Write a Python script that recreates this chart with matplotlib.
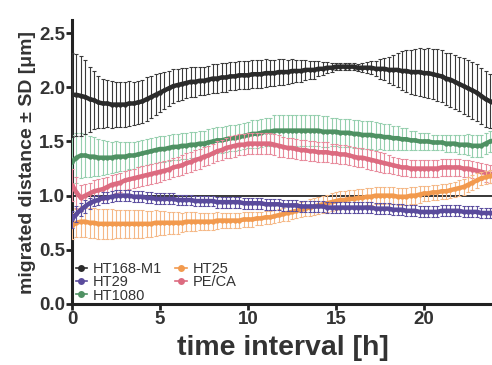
import numpy as np
import matplotlib
matplotlib.use("Agg")
import matplotlib.pyplot as plt
from matplotlib.lines import Line2D

plt.rcParams['font.family'] = ['Liberation Sans', 'DejaVu Sans']

# time points (h), every 15 min
time_h = np.arange(0, 24.01, 0.25)

series_names = ["HT168-M1", "HT29", "HT1080", "HT25", "PE/CA"]

ht168_mean = [
    1.93, 1.93, 1.92, 1.91, 1.89, 1.88, 1.86, 1.85, 1.85, 1.84, 1.84, 1.84,
    1.84, 1.85, 1.85, 1.86, 1.87, 1.89, 1.91, 1.93, 1.95, 1.97, 1.99, 2.01,
    2.02, 2.03, 2.04, 2.05, 2.05, 2.06, 2.06, 2.07, 2.08, 2.08, 2.09, 2.09,
    2.10, 2.10, 2.11, 2.11, 2.11, 2.12, 2.12, 2.12, 2.13, 2.13, 2.13, 2.14,
    2.14, 2.14, 2.15, 2.15, 2.15, 2.16, 2.16, 2.16, 2.17, 2.17, 2.18, 2.18,
    2.19, 2.19, 2.19, 2.19, 2.19, 2.18, 2.18, 2.18, 2.18, 2.17, 2.17, 2.17,
    2.16, 2.16, 2.16, 2.15, 2.15, 2.14, 2.14, 2.14, 2.13, 2.13, 2.12, 2.11,
    2.10, 2.08, 2.07, 2.05, 2.03, 2.01, 1.99, 1.97, 1.95, 1.92, 1.89, 1.87,
    1.85]
ht168_sd = [
    0.39, 0.38, 0.37, 0.34, 0.30, 0.27, 0.24, 0.23, 0.22, 0.22, 0.21, 0.21,
    0.21, 0.21, 0.20, 0.20, 0.20, 0.20, 0.19, 0.19, 0.18, 0.17, 0.16, 0.16,
    0.15, 0.15, 0.14, 0.14, 0.14, 0.13, 0.13, 0.13, 0.13, 0.13, 0.13, 0.13,
    0.13, 0.13, 0.13, 0.13, 0.13, 0.13, 0.13, 0.13, 0.13, 0.12, 0.12, 0.12,
    0.12, 0.11, 0.11, 0.10, 0.10, 0.09, 0.08, 0.08, 0.07, 0.06, 0.05, 0.04,
    0.03, 0.03, 0.03, 0.03, 0.03, 0.03, 0.04, 0.05, 0.06, 0.07, 0.09, 0.10,
    0.12, 0.14, 0.16, 0.18, 0.19, 0.20, 0.21, 0.22, 0.22, 0.23, 0.23, 0.24,
    0.24, 0.24, 0.25, 0.25, 0.25, 0.26, 0.26, 0.26, 0.26, 0.26, 0.26, 0.25,
    0.25]

ht29_mean = [
    0.78, 0.83, 0.87, 0.90, 0.93, 0.95, 0.96, 0.98, 0.98, 0.99, 1.00, 1.00,
    1.00, 1.00, 0.99, 0.99, 0.99, 0.98, 0.98, 0.97, 0.97, 0.97, 0.97, 0.97,
    0.96, 0.96, 0.96, 0.96, 0.95, 0.95, 0.95, 0.95, 0.95, 0.94, 0.94, 0.94,
    0.94, 0.94, 0.94, 0.93, 0.93, 0.93, 0.93, 0.93, 0.92, 0.92, 0.92, 0.92,
    0.91, 0.91, 0.91, 0.91, 0.90, 0.90, 0.90, 0.90, 0.90, 0.90, 0.89, 0.89,
    0.89, 0.89, 0.89, 0.89, 0.89, 0.89, 0.89, 0.89, 0.89, 0.88, 0.88, 0.88,
    0.88, 0.87, 0.87, 0.87, 0.86, 0.86, 0.86, 0.85, 0.85, 0.85, 0.85, 0.85,
    0.86, 0.86, 0.86, 0.86, 0.86, 0.85, 0.85, 0.85, 0.85, 0.84, 0.84, 0.84,
    0.84]
ht29_sd = [
    0.08, 0.07, 0.06, 0.06, 0.05, 0.05, 0.05, 0.05, 0.05, 0.05, 0.05, 0.05,
    0.05, 0.05, 0.05, 0.05, 0.05, 0.05, 0.05, 0.05, 0.05, 0.05, 0.05, 0.05,
    0.05, 0.05, 0.05, 0.05, 0.05, 0.05, 0.05, 0.05, 0.05, 0.05, 0.05, 0.05,
    0.05, 0.05, 0.05, 0.05, 0.05, 0.05, 0.05, 0.05, 0.05, 0.05, 0.05, 0.05,
    0.05, 0.05, 0.05, 0.05, 0.05, 0.05, 0.05, 0.05, 0.05, 0.05, 0.05, 0.05,
    0.05, 0.05, 0.05, 0.05, 0.05, 0.05, 0.05, 0.05, 0.05, 0.05, 0.05, 0.05,
    0.05, 0.05, 0.05, 0.05, 0.05, 0.05, 0.05, 0.05, 0.05, 0.05, 0.05, 0.05,
    0.05, 0.05, 0.05, 0.05, 0.05, 0.05, 0.05, 0.05, 0.05, 0.05, 0.05, 0.05,
    0.05]

ht1080_mean = [
    1.31, 1.35, 1.37, 1.37, 1.36, 1.36, 1.35, 1.35, 1.35, 1.35, 1.36, 1.36,
    1.36, 1.37, 1.37, 1.38, 1.39, 1.40, 1.41, 1.42, 1.43, 1.43, 1.44, 1.45,
    1.45, 1.46, 1.46, 1.47, 1.47, 1.48, 1.48, 1.49, 1.50, 1.51, 1.51, 1.52,
    1.53, 1.53, 1.54, 1.55, 1.56, 1.57, 1.57, 1.58, 1.59, 1.59, 1.60, 1.60,
    1.60, 1.60, 1.60, 1.60, 1.60, 1.60, 1.60, 1.60, 1.60, 1.59, 1.59, 1.59,
    1.59, 1.58, 1.58, 1.58, 1.57, 1.57, 1.56, 1.56, 1.56, 1.55, 1.55, 1.54,
    1.54, 1.53, 1.53, 1.52, 1.52, 1.51, 1.51, 1.50, 1.50, 1.50, 1.49, 1.49,
    1.49, 1.48, 1.48, 1.48, 1.47, 1.47, 1.47, 1.46, 1.46, 1.46, 1.48, 1.50,
    1.51]
ht1080_sd = [
    0.25, 0.23, 0.21, 0.20, 0.19, 0.18, 0.17, 0.16, 0.15, 0.14, 0.14, 0.13,
    0.13, 0.12, 0.12, 0.12, 0.12, 0.12, 0.12, 0.12, 0.12, 0.12, 0.12, 0.12,
    0.12, 0.12, 0.12, 0.12, 0.12, 0.12, 0.12, 0.12, 0.12, 0.12, 0.12, 0.12,
    0.12, 0.12, 0.12, 0.12, 0.12, 0.13, 0.13, 0.13, 0.13, 0.13, 0.14, 0.14,
    0.14, 0.14, 0.14, 0.14, 0.14, 0.14, 0.14, 0.14, 0.14, 0.14, 0.14, 0.13,
    0.13, 0.13, 0.13, 0.13, 0.13, 0.13, 0.13, 0.13, 0.13, 0.13, 0.12, 0.12,
    0.12, 0.11, 0.11, 0.10, 0.10, 0.09, 0.09, 0.08, 0.08, 0.08, 0.07, 0.07,
    0.07, 0.08, 0.08, 0.08, 0.09, 0.09, 0.10, 0.10, 0.10, 0.10, 0.10, 0.10,
    0.10]

ht25_mean = [
    0.72, 0.75, 0.76, 0.76, 0.75, 0.75, 0.74, 0.74, 0.74, 0.74, 0.74, 0.74,
    0.74, 0.74, 0.74, 0.74, 0.74, 0.74, 0.74, 0.75, 0.75, 0.75, 0.75, 0.75,
    0.75, 0.75, 0.76, 0.76, 0.76, 0.76, 0.76, 0.76, 0.76, 0.77, 0.77, 0.77,
    0.77, 0.77, 0.77, 0.78, 0.78, 0.78, 0.79, 0.79, 0.80, 0.80, 0.81, 0.82,
    0.83, 0.84, 0.85, 0.86, 0.87, 0.88, 0.89, 0.90, 0.91, 0.92, 0.93, 0.94,
    0.95, 0.96, 0.96, 0.97, 0.97, 0.98, 0.98, 0.99, 0.99, 1.00, 1.00, 1.00,
    1.00, 1.00, 0.99, 0.99, 0.99, 1.00, 1.00, 1.01, 1.02, 1.02, 1.03, 1.03,
    1.04, 1.04, 1.05, 1.06, 1.07, 1.08, 1.10, 1.12, 1.14, 1.16, 1.17, 1.18,
    1.19]
ht25_sd = [
    0.12, 0.13, 0.14, 0.14, 0.14, 0.14, 0.14, 0.14, 0.14, 0.14, 0.13, 0.13,
    0.13, 0.13, 0.13, 0.13, 0.13, 0.12, 0.12, 0.12, 0.11, 0.11, 0.10, 0.10,
    0.10, 0.09, 0.09, 0.09, 0.09, 0.08, 0.08, 0.08, 0.08, 0.08, 0.07, 0.07,
    0.07, 0.07, 0.07, 0.07, 0.07, 0.07, 0.06, 0.06, 0.06, 0.06, 0.06, 0.06,
    0.06, 0.07, 0.07, 0.07, 0.07, 0.07, 0.08, 0.08, 0.08, 0.08, 0.08, 0.08,
    0.08, 0.08, 0.08, 0.08, 0.08, 0.08, 0.08, 0.08, 0.08, 0.08, 0.08, 0.08,
    0.08, 0.08, 0.08, 0.08, 0.08, 0.08, 0.08, 0.08, 0.07, 0.07, 0.07, 0.07,
    0.07, 0.07, 0.07, 0.07, 0.07, 0.07, 0.07, 0.07, 0.07, 0.06, 0.06, 0.06,
    0.06]

pe_ca_mean = [
    1.10, 1.03, 0.98, 1.00, 1.02, 1.04, 1.05, 1.06, 1.08, 1.10, 1.11, 1.12,
    1.14, 1.15, 1.16, 1.17, 1.18, 1.19, 1.20, 1.21, 1.22, 1.23, 1.24, 1.26,
    1.27, 1.28, 1.30, 1.31, 1.33, 1.34, 1.36, 1.37, 1.39, 1.41, 1.42, 1.44,
    1.45, 1.46, 1.47, 1.47, 1.48, 1.48, 1.48, 1.48, 1.48, 1.48, 1.47, 1.46,
    1.45, 1.44, 1.44, 1.43, 1.42, 1.42, 1.41, 1.41, 1.40, 1.40, 1.40, 1.39,
    1.39, 1.38, 1.38, 1.37, 1.36, 1.35, 1.35, 1.34, 1.33, 1.32, 1.31, 1.30,
    1.29, 1.28, 1.27, 1.26, 1.26, 1.25, 1.25, 1.25, 1.25, 1.25, 1.25, 1.25,
    1.26, 1.26, 1.26, 1.26, 1.26, 1.25, 1.25, 1.24, 1.23, 1.22, 1.21, 1.20,
    1.20]
pe_ca_sd = [
    0.15, 0.14, 0.12, 0.11, 0.10, 0.10, 0.10, 0.10, 0.09, 0.09, 0.09, 0.09,
    0.09, 0.09, 0.09, 0.09, 0.09, 0.09, 0.09, 0.09, 0.09, 0.09, 0.09, 0.09,
    0.09, 0.09, 0.09, 0.09, 0.09, 0.09, 0.09, 0.09, 0.09, 0.09, 0.09, 0.09,
    0.10, 0.10, 0.10, 0.10, 0.10, 0.10, 0.10, 0.10, 0.10, 0.10, 0.10, 0.10,
    0.09, 0.09, 0.09, 0.09, 0.09, 0.09, 0.09, 0.09, 0.09, 0.09, 0.09, 0.09,
    0.09, 0.09, 0.09, 0.09, 0.09, 0.09, 0.09, 0.09, 0.09, 0.09, 0.09, 0.09,
    0.08, 0.08, 0.08, 0.08, 0.08, 0.08, 0.08, 0.08, 0.08, 0.08, 0.08, 0.08,
    0.08, 0.08, 0.08, 0.08, 0.08, 0.08, 0.08, 0.08, 0.08, 0.08, 0.08, 0.08,
    0.08]

y_ticks = [0.0, 0.5, 1.0, 1.5, 2.0, 2.5]
x_ticks = [0, 5, 10, 15, 20]

means = [ht168_mean, ht29_mean, ht1080_mean, ht25_mean, pe_ca_mean]
sds = [ht168_sd, ht29_sd, ht1080_sd, ht25_sd, pe_ca_sd]
line_colors = ["#2b2b2b", "#5a4b9c", "#4f9163", "#f29a4e", "#dc6b80"]
bar_colors = ["#3a3a3a", "#5d50a0", "#95cfae", "#f5b887", "#e88b9c"]
zorders = [6, 5, 3, 4, 3.5]

fig = plt.figure(figsize=(4.92, 3.65), dpi=100)
ax = fig.add_axes([72 / 492, 61 / 365, 421 / 492, 284 / 365])

ax.axhline(1.0, color="black", lw=1.1, zorder=2)

for m, s, lc, bc, z in zip(means, sds, line_colors, bar_colors, zorders):
    ax.errorbar(time_h, m, yerr=s, fmt="none", ecolor=bc, elinewidth=0.8,
                capsize=1.6, capthick=0.8, zorder=z)
for m, lc, z in zip(means, line_colors, zorders):
    ax.plot(time_h, m, color=lc, lw=3.2, marker="o", markersize=3.2,
            markeredgewidth=0, zorder=z + 0.2, solid_capstyle="round")

ax.set_xlim(0, 23.92)
ax.set_ylim(0, 2.62)
ax.set_xticks(x_ticks)
ax.set_yticks(y_ticks)
ax.set_yticklabels([f"{v:.1f}" for v in y_ticks])
for sp in ["top", "right"]:
    ax.spines[sp].set_visible(False)
for sp in ["left", "bottom"]:
    ax.spines[sp].set_linewidth(2.2)
    ax.spines[sp].set_color("#222222")
ax.tick_params(axis="both", direction="out", length=4, width=2.0,
               labelsize=13.5, colors="#222222", pad=1)
for lab in ax.get_xticklabels() + ax.get_yticklabels():
    lab.set_fontweight("bold")
    lab.set_color("#333333")

ax.set_xlabel("time interval [h]", fontsize=20.5, fontweight="bold",
              color="#333333", labelpad=5)
ax.set_ylabel("migrated distance \u00b1 SD [\u03bcm]", fontsize=14,
              fontweight="bold", color="#333333", labelpad=2)

handles = [Line2D([0], [0], color=c, lw=1.2, marker="o", markersize=5,
                  markeredgewidth=0) for c in line_colors]
leg = ax.legend(handles, series_names,
                loc="lower left", ncol=2, frameon=False, fontsize=10.5,
                handlelength=0.8, handletextpad=0.4, columnspacing=0.9,
                labelspacing=-0.05, borderaxespad=0.0, borderpad=0.1,
                bbox_to_anchor=(0.005, 0.0))
for t in leg.get_texts():
    t.set_color("#333333")

fig.savefig("out.png", dpi=100)
